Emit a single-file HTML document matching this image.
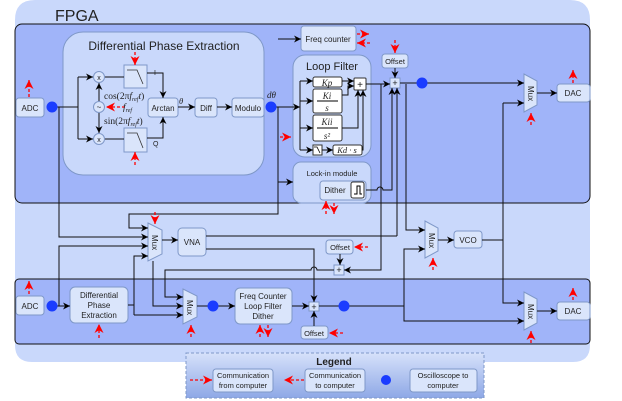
<!DOCTYPE html>
<html><head><meta charset="utf-8"><style>
html,body{margin:0;padding:0;background:#fff;width:622px;height:401px;overflow:hidden}
text{font-family:"Liberation Sans",sans-serif;font-size:8px;fill:#222}
.m{font-family:"Liberation Serif",serif;font-style:italic}
</style></head><body>
<svg width="622" height="401" viewBox="0 0 622 401" xmlns="http://www.w3.org/2000/svg">
<defs>
<marker id="a" viewBox="0 0 10 10" refX="10" refY="5" markerWidth="7" markerHeight="7" orient="auto-start-reverse" markerUnits="userSpaceOnUse"><path d="M0,0 L10,5 L0,10 L3,5z" fill="#000"/></marker>
<marker id="r" viewBox="0 0 10 10" refX="10" refY="5" markerWidth="9" markerHeight="9" orient="auto-start-reverse" markerUnits="userSpaceOnUse"><path d="M0,0 L10,5 L0,10 L3,5z" fill="#f00"/></marker>
<linearGradient id="lg" x1="0" y1="0" x2="0" y2="1"><stop offset="0" stop-color="#d6e1fa"/><stop offset="1" stop-color="#8ea8e6"/></linearGradient>
</defs>
<path d="M15,20 Q15,0 35,0 L570,0 Q590,0 590,20 L590,345 Q590,362 573,362 L32,362 Q15,362 15,345Z" fill="#c9d8fb"/>
<text x="55" y="21" style="font-size:16px">FPGA</text>
<rect x="15" y="24" width="575" height="179" rx="7" fill="#a0b4f9" stroke="#111" stroke-width="1"/>
<rect x="15" y="279" width="575" height="65" rx="4" fill="#a0b4f9" stroke="#111" stroke-width="1"/>

<g fill="#c9d8fb" stroke="#7f98c8" stroke-width="1">
<rect x="63" y="32" width="201" height="143" rx="20"/>
<rect x="293" y="55" width="78" height="102" rx="12"/>
<rect x="293" y="162" width="78" height="41" rx="8"/>
</g>
<g fill="#dae5fb" stroke="#7f98c8" stroke-width="1">
<rect x="16" y="98" width="28" height="19" rx="3"/>
<rect x="148" y="98" width="30" height="19" rx="3"/>
<rect x="195" y="98" width="22" height="19" rx="3"/>
<rect x="232" y="98" width="32" height="19" rx="3"/>
<rect x="301" y="26" width="55" height="25" rx="3"/>
<rect x="382" y="54" width="26" height="14" rx="3"/>
<rect x="557" y="84" width="33" height="18" rx="3"/>
<rect x="320" y="181" width="46" height="19" rx="3"/>
<rect x="178" y="228" width="28" height="28" rx="4"/>
<rect x="326" y="240" width="27" height="14" rx="3"/>
<rect x="454" y="231" width="28" height="17" rx="3"/>
<rect x="16" y="296" width="28" height="19" rx="3"/>
<rect x="70" y="287" width="58" height="36" rx="5"/>
<rect x="235" y="288" width="57" height="36" rx="5"/>
<rect x="301" y="326" width="27" height="13" rx="3"/>
<rect x="557" y="302" width="33" height="18" rx="3"/>
<rect x="124" y="65" width="23" height="23"/>
<rect x="124" y="128" width="23" height="24"/>
<circle cx="99" cy="77" r="5.5"/><circle cx="99" cy="107" r="5.5"/><circle cx="99" cy="139" r="5.5"/>
<rect x="390" y="78" width="10" height="10"/>
<rect x="334" y="265" width="10" height="10"/>
<rect x="309" y="302" width="10" height="9"/>
<path d="M524,74 L537,81 L537,105 L524,112Z"/>
<path d="M148,223 L162,230 L162,254 L148,261Z"/>
<path d="M425,221 L438,228 L438,251 L425,258Z"/>
<path d="M183,289 L197,296 L197,317 L183,324Z"/>
<path d="M524,292 L537,299 L537,323 L524,330Z"/>
</g>
<path d="M127,70 L137,70 L143,84" fill="none" stroke="#333" stroke-width="0.8"/>
<path d="M127,133 L137,133 L143,148" fill="none" stroke="#333" stroke-width="0.8"/>
<g fill="#fff" stroke="#333" stroke-width="1">
<rect x="313" y="77" width="29" height="10" rx="2"/>
<rect x="313" y="89" width="29" height="24" rx="2"/>
<rect x="313" y="115" width="29" height="26" rx="2"/>
<rect x="313" y="145" width="9" height="10"/>
<rect x="333" y="145" width="29" height="10" rx="2"/>
<rect x="354" y="78" width="12" height="12" rx="1"/>
<rect x="351" y="182" width="13" height="16" rx="2"/>
</g>
<path d="M314,147 L317,147 L320,153" fill="none" stroke="#000" stroke-width="0.8"/>
<path d="M354,194 L357,194 L357,186 L360,186 L360,194 L362,194" fill="none" stroke="#000"/>
<line x1="317" y1="101" x2="338" y2="101" stroke="#000"/><line x1="317" y1="128" x2="338" y2="128" stroke="#000"/>

<g fill="none" stroke="#111" stroke-width="1">
<path d="M52,107 H78 M78,77 V139"/>
<path d="M78,77 H93" marker-end="url(#a)"/><path d="M78,139 H93" marker-end="url(#a)"/>
<path d="M105,77 H124 M105,139 H124"/>
<path d="M99,101 V83" marker-end="url(#a)"/><path d="M99,113 V133" marker-end="url(#a)"/>
<path d="M147,73 H163 V98" marker-end="url(#a)"/><path d="M147,138 H163 V117" marker-end="url(#a)"/>
<path d="M178,107 H195" marker-end="url(#a)"/><path d="M217,107 H232" marker-end="url(#a)"/>
<path d="M271,107 H300" marker-end="url(#a)"/>
<path d="M278,107 V214 H129 V228 H148" marker-end="url(#a)"/>
<path d="M278,39 H301" marker-end="url(#a)"/>
<path d="M278,182 H293" marker-end="url(#a)"/>
<path d="M300,81 V150"/>
<path d="M300,81 H313" marker-end="url(#a)"/><path d="M300,101 H313" marker-end="url(#a)"/><path d="M300,128 H313" marker-end="url(#a)"/><path d="M300,150 H313" marker-end="url(#a)"/>
<path d="M322,150 H333" marker-end="url(#a)"/>
<path d="M342,81 H354" marker-end="url(#a)"/><path d="M342,95 H348 V86 H354" marker-end="url(#a)"/>
<path d="M342,128 H358 V90" marker-end="url(#a)"/><path d="M362,150 H363 V90" marker-end="url(#a)"/>
<path d="M366,84 H390" marker-end="url(#a)"/>
<path d="M395,68 V78" marker-end="url(#a)"/>
<path d="M400,83 H422 M422,83 H524" marker-end="url(#a)"/>
<path d="M366,190 H377 a3,3 0 0 1 6,0 H392 V88" marker-end="url(#a)"/>
<path d="M397,236 V88" marker-end="url(#a)"/>
<path d="M206,236 H397"/>
<path d="M381,84 V270 H344" marker-end="url(#a)"/>
<path d="M406,84 V230 H425" marker-end="url(#a)"/>
<path d="M537,93 H557" marker-end="url(#a)"/>
<path d="M503,103 H524" marker-end="url(#a)"/>
<path d="M503,103 V303 H524" marker-end="url(#a)"/>
<path d="M482,240 H503"/>
<path d="M438,240 H454" marker-end="url(#a)"/>
<path d="M162,240 H178" marker-end="url(#a)"/>
<path d="M59,107 V237 H148" marker-end="url(#a)"/>
<path d="M59,306 V246 H148" marker-end="url(#a)"/>
<path d="M128,305 H134 M134,315 V256 H148" marker-end="url(#a)"/>
<path d="M134,315 H183" marker-end="url(#a)"/>
<path d="M153,261 V306 H183" marker-end="url(#a)"/>
<path d="M334,270 H317 a3,3 0 0 0 -6,0 H165 V297 H183" marker-end="url(#a)"/>
<path d="M206,249 H314 V302" marker-end="url(#a)"/>
<path d="M340,254 V265" marker-end="url(#a)"/>
<path d="M52,306 H70" marker-end="url(#a)"/>
<path d="M197,306 H235" marker-end="url(#a)"/>
<path d="M292,306 H309" marker-end="url(#a)"/>
<path d="M314,326 V311" marker-end="url(#a)"/>
<path d="M319,306 H404 V321 H524" marker-end="url(#a)"/>
<path d="M404,306 V249 H425" marker-end="url(#a)"/>
<path d="M537,311 H557" marker-end="url(#a)"/>
<path d="M391,380 H405" marker-end="url(#a)"/>
</g>
<g fill="none" stroke="#f00" stroke-width="1.3" stroke-dasharray="3,2">
<path d="M29,97 V80" marker-end="url(#r)"/>
<path d="M135,52 V65" marker-end="url(#r)"/>
<path d="M135,165 V152" marker-end="url(#r)"/>
<path d="M125,107 H106" marker-end="url(#r)"/>
<path d="M357,34 H369" marker-end="url(#r)"/>
<path d="M370,43 H357" marker-end="url(#r)"/>
<path d="M280,137 H291" marker-end="url(#r)"/>
<path d="M395,40 V53" marker-end="url(#r)"/>
<path d="M531,125 V113" marker-end="url(#r)"/>
<path d="M573,83 V70" marker-end="url(#r)"/>
<path d="M326,214 V201" marker-end="url(#r)"/>
<path d="M334,203 V214" marker-end="url(#r)"/>
<path d="M155,212 V224" marker-end="url(#r)"/>
<path d="M368,247 H354" marker-end="url(#r)"/>
<path d="M433,270 V258" marker-end="url(#r)"/>
<path d="M29,294 V281" marker-end="url(#r)"/>
<path d="M99,338 V324" marker-end="url(#r)"/>
<path d="M191,337 V325" marker-end="url(#r)"/>
<path d="M260,337 V325" marker-end="url(#r)"/>
<path d="M268,325 V337" marker-end="url(#r)"/>
<path d="M343,333 H329" marker-end="url(#r)"/>
<path d="M531,343 V331" marker-end="url(#r)"/>
<path d="M573,300 V288" marker-end="url(#r)"/>
</g>
<g fill="#1a3cff">
<circle cx="52" cy="107" r="5.5"/><circle cx="271" cy="107" r="5.5"/><circle cx="422" cy="83" r="5.5"/>
<circle cx="52" cy="306" r="5.5"/><circle cx="213" cy="306" r="5.5"/><circle cx="344" cy="306" r="5.5"/>
</g>
<rect x="186" y="353" width="298" height="45" fill="url(#lg)" stroke="#7f98c8" stroke-dasharray="3,2"/>
<g fill="#dae5fb" stroke="#7f98c8"><rect x="213" y="369" width="60" height="23" rx="3"/><rect x="305" y="369" width="60" height="23" rx="3"/><rect x="410" y="369" width="67" height="23" rx="3"/></g>
<g fill="none" stroke="#f00" stroke-width="1.3" stroke-dasharray="3,2"><path d="M190,380 H212" marker-end="url(#r)"/><path d="M304,380 H284" marker-end="url(#r)"/></g>
<circle cx="386" cy="380" r="5" fill="#1a3cff"/>
<g text-anchor="middle">
<text x="164" y="50" style="font-size:12px">Differential Phase Extraction</text>
<text x="332" y="70" style="font-size:11px">Loop Filter</text>
<text x="332" y="176" style="font-size:7.5px">Lock-in module</text>
<text x="335" y="193">Dither</text>
<text x="30" y="111">ADC</text>
<text x="163" y="111">Arctan</text>
<text x="206" y="111">Diff</text>
<text x="248" y="111">Modulo</text>
<text x="328" y="42">Freq counter</text>
<text x="395" y="64" style="font-size:7.5px">Offset</text>
<text x="573" y="96">DAC</text>
<text x="192" y="245">VNA</text>
<text x="340" y="250" style="font-size:7.5px">Offset</text>
<text x="468" y="243">VCO</text>
<text x="30" y="309">ADC</text>
<text x="99" y="298">Differential</text><text x="99" y="308">Phase</text><text x="99" y="318">Extraction</text>
<text x="263" y="299">Freq Counter</text><text x="263" y="309">Loop Filter</text><text x="263" y="319">Dither</text>
<text x="314" y="336" style="font-size:7.5px">Offset</text>
<text x="573" y="314">DAC</text>
<text x="334" y="365" style="font-size:10px;font-weight:bold">Legend</text>
<text x="243" y="378" style="font-size:7.5px">Communication</text><text x="243" y="388" style="font-size:7.5px">from computer</text>
<text x="335" y="378" style="font-size:7.5px">Communication</text><text x="335" y="388" style="font-size:7.5px">to computer</text>
<text x="443" y="378" style="font-size:7.5px">Oscilloscope to</text><text x="443" y="388" style="font-size:7.5px">computer</text>
<text x="99" y="80" style="font-size:7px">x</text><text x="99" y="142" style="font-size:7px">x</text><text x="99" y="110" style="font-size:8px">~</text>
<text x="395" y="86" style="font-size:9px">+</text><text x="360" y="88" style="font-size:10px">+</text>
<text x="339" y="273" style="font-size:9px">+</text><text x="314" y="310" style="font-size:9px">+</text>
<text class="m" x="327" y="86" style="font-size:9px">Kp</text>
<text class="m" x="327" y="99" style="font-size:9px">Ki</text><text class="m" x="327" y="111" style="font-size:9px">s</text>
<text class="m" x="327" y="125" style="font-size:9px">Kii</text><text class="m" x="327" y="139" style="font-size:9px">s²</text>
<text class="m" x="347" y="153" style="font-size:8.5px">Kd · s</text>
</g>
<text x="154" y="75" style="font-size:7px">I</text><text x="153" y="146" style="font-size:7px">Q</text>
<text class="m" x="104" y="99" style="font-size:9.5px;font-style:normal">cos(2π<tspan font-style="italic">f</tspan><tspan style="font-size:6px;font-style:italic" dy="2">ref</tspan><tspan dy="-2" font-style="italic">t</tspan>)</text>
<text class="m" x="104" y="124" style="font-size:9.5px;font-style:normal">sin(2π<tspan font-style="italic">f</tspan><tspan style="font-size:6px;font-style:italic" dy="2">ref</tspan><tspan dy="-2" font-style="italic">t</tspan>)</text>
<text class="m" x="123" y="110" style="font-size:9.5px">f<tspan style="font-size:6px" dy="2">ref</tspan></text>
<text class="m" x="179" y="104" style="font-size:8.5px">θ</text>
<text class="m" x="267" y="98" style="font-size:9px">dθ</text>
<g style="font-size:7px">
<text transform="translate(528,86) rotate(90)">Mux</text>
<text transform="translate(152,235) rotate(90)">Mux</text>
<text transform="translate(429,233) rotate(90)">Mux</text>
<text transform="translate(187,300) rotate(90)">Mux</text>
<text transform="translate(528,304) rotate(90)">Mux</text>
</g>
</svg>
</body></html>
